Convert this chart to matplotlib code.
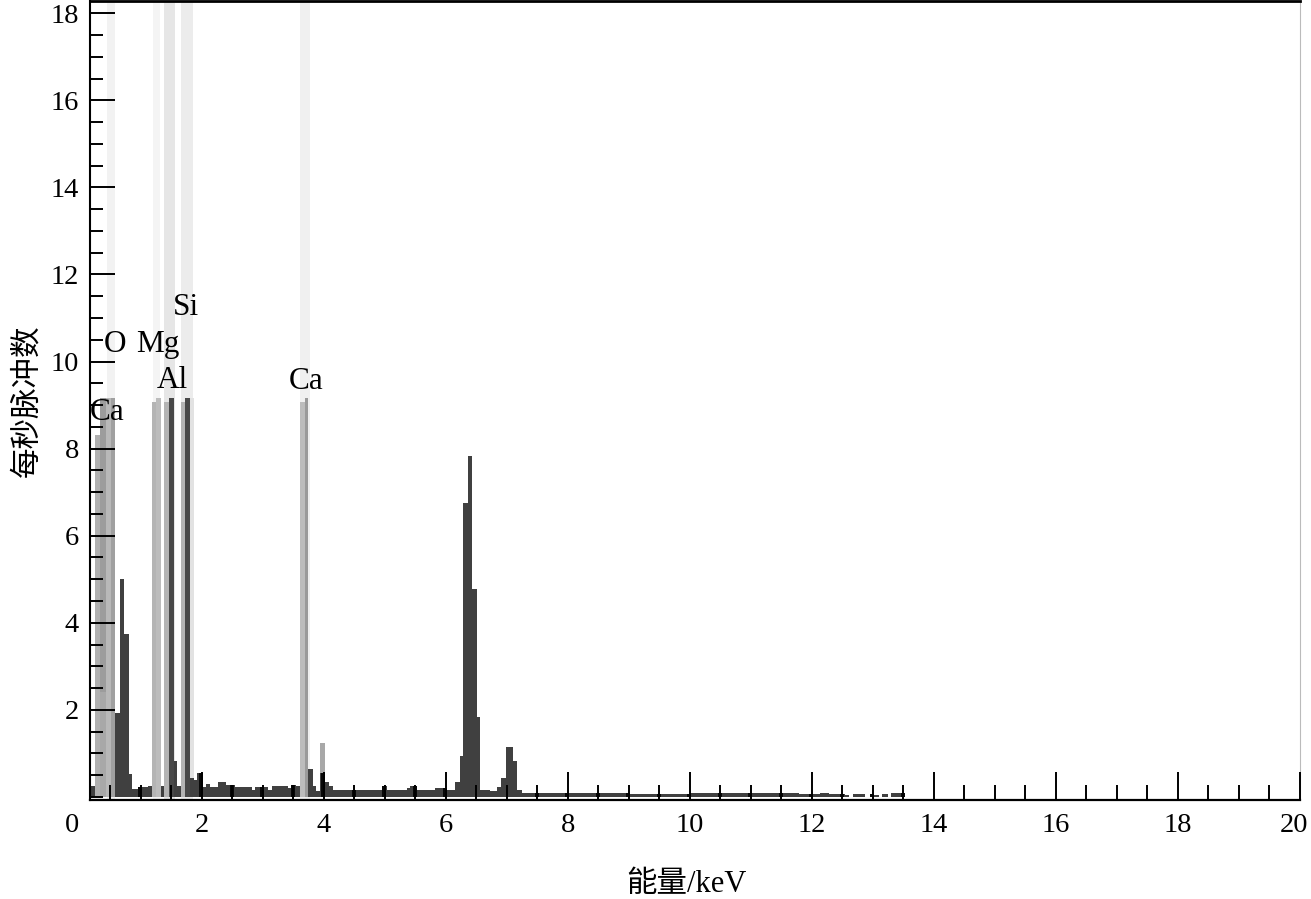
import numpy as np
import matplotlib.pyplot as plt
from matplotlib.ticker import MultipleLocator
from matplotlib.transforms import ScaledTranslation

plt.rcParams['font.family'] = ['Liberation Serif', 'Noto Sans CJK SC']

# spectrum: bin edges (keV) and counts per second for each bin
edges = [0.164, 0.24, 0.579, 0.661, 0.721, 0.798, 0.852, 0.978, 1.06, 1.115,
         1.18, 1.322, 1.377, 1.541, 1.596, 1.661, 1.803, 1.869, 1.923, 1.995,
         2.066, 2.131, 2.268, 2.393, 2.541, 2.814, 2.869, 3.005, 3.087, 3.142,
         3.415, 3.459, 3.541, 3.607, 3.743, 3.814, 3.869, 3.934, 4.016, 4.087,
         4.153, 4.962, 5.027, 5.355, 5.41, 5.492, 5.82, 6.011, 6.148, 6.23,
         6.284, 6.366, 6.432, 6.503, 6.557, 6.721, 6.83, 6.9, 6.98, 7.1,
         7.17, 7.24, 7.43, 7.70, 9.0, 10.0, 11.31, 11.6, 11.78, 12.13,
         12.28, 12.54, 12.6, 12.68, 12.87, 12.95, 13.02, 13.1, 13.14, 13.25,
         13.29, 13.5, 13.52]
counts = [0.25, 0.0, 1.92, 5.01, 3.74, 0.53, 0.18, 0.24, 0.24,
          0.25, 0.0, 0.25, 0.0, 0.83, 0.25, 0.0, 0.43, 0.38, 0.55,
          0.24, 0.30, 0.24, 0.35, 0.28, 0.24, 0.16, 0.24, 0.24, 0.16,
          0.25, 0.20, 0.28, 0.25, 0.0, 0.64, 0.25, 0.13, 0.56, 0.35,
          0.25, 0.16, 0.25, 0.16, 0.20, 0.25, 0.16, 0.20, 0.16, 0.35,
          0.93, 6.76, 7.83, 4.77, 1.84, 0.16, 0.13, 0.24, 0.43, 1.14,
          0.83, 0.16, 0.10, 0.10, 0.08, 0.07, 0.08, 0.08, 0.10, 0.06,
          0.10, 0.06, 0.05, 0.0, 0.06, 0.0, 0.07, 0.04, 0.0, 0.06,
          0.0, 0.08, 0.02]

# element windows (full height shading)
band_lo = [0.437, 1.19, 1.377, 1.65, 3.607]
band_hi = [0.574, 1.31, 1.557, 1.86, 3.77]
band_col = ['#f2f2f2', '#f4f4f4', '#e6e6e6', '#ececec', '#f0f0f0']

# element line markers
mark_lo = [0.24, 0.322, 0.432, 0.514, 1.18, 1.251, 1.377, 1.459, 1.661, 1.727, 1.803, 3.607, 3.689]
mark_hi = [0.322, 0.432, 0.514, 0.579, 1.251, 1.322, 1.459, 1.541, 1.727, 1.803, 1.869, 3.689, 3.743]
mark_h = [8.31, 9.16, 9.16, 9.16, 9.08, 9.16, 9.08, 9.16, 9.08, 9.16, 9.16, 9.08, 9.16]
mark_col = ['#b0b0b0', '#9c9c9c', '#b8b8b8', '#a0a0a0', '#b4b4b4', '#bcbcbc', '#b4b4b4',
            '#484848', '#b4b4b4', '#484848', '#e2e2e2', '#bcbcbc', '#9a9a9a']

# counts inside element windows, drawn in grey
roi_lo = [0.322, 3.934]
roi_hi = [0.432, 4.016]
roi_h = [2.42, 1.23]

labels = ['Ca', 'O', 'Mg', 'Al', 'Si', 'Ca']
label_e = [0.45, 0.574, 1.27, 1.51, 1.74, 3.70]
label_v = [8.66, 10.23, 10.23, 9.39, 11.07, 9.36]

fig = plt.figure(figsize=(13.11, 8.99), dpi=100)
ax = fig.add_axes([90 / 1311, 1 - 800 / 899, 1210 / 1311, 799 / 899])

for lo, hi, col in zip(band_lo, band_hi, band_col):
    ax.axvspan(lo, hi, color=col, lw=0, zorder=0.5)

mlo = np.array(mark_lo)
ax.bar(mlo, mark_h, width=np.array(mark_hi) - mlo, align='edge',
       color=mark_col, lw=0, zorder=0.8)
rlo = np.array(roi_lo)
ax.bar(rlo, roi_h, width=np.array(roi_hi) - rlo, align='edge',
       color='#a8a8a8', lw=0, zorder=0.9)

ax.stairs(counts, edges, fill=True, color='#404040', lw=0, zorder=1)

# baseline bins under the 0.5 keV ticks come out black in the original
e = np.array(edges)
c = np.array(counts)
tpos = np.arange(0.5, 13.6, 0.5)
idx = np.clip(np.searchsorted(e, tpos - 0.01) - 1, 0, len(c) - 1)
h = np.where(c[idx] < 1.0, c[idx], 0.0)
ax.bar(tpos - 0.01, h, width=0.065, color='#080808', lw=0, zorder=1.2)

for t, x, y in zip(labels, label_e, label_v):
    ax.text(x, y, t, ha='center', va='baseline', fontsize=22.5, zorder=3)

ax.set_xlim(0.164, 20.0)
ax.set_ylim(-0.07, 18.28)
ax.set_axisbelow(False)

ax.xaxis.set_minor_locator(MultipleLocator(0.5))
ax.yaxis.set_minor_locator(MultipleLocator(0.5))
ax.set_xticks(np.arange(2, 21, 2))
ax.set_xticklabels([str(v) for v in range(2, 21, 2)])
ax.set_yticks(np.arange(2, 19, 2))
ax.set_yticklabels([str(v) for v in range(2, 19, 2)])

ax.tick_params(axis='x', which='major', direction='in', length=20, width=1.4,
               labelsize=20.5, pad=9)
ax.tick_params(axis='x', which='minor', direction='in', length=11, width=1.4)
ax.tick_params(axis='y', which='major', direction='in', length=18, width=1.4,
               labelsize=20.5, pad=8)
ax.tick_params(axis='y', which='minor', direction='in', length=9, width=1.4)

# keep the last x label inside the picture
last = ax.get_xticklabels()[-1]
last.set_transform(last.get_transform() + ScaledTranslation(-6 / 100, 0, fig.dpi_scale_trans))

ax.spines['left'].set_linewidth(1.5)
ax.spines['bottom'].set_linewidth(1.6)
ax.spines['top'].set_linewidth(2.0)
ax.spines['right'].set_linewidth(0.8)
ax.spines['right'].set_color('#bbbbbb')

fig.text(72 / 1311, 1 - 825 / 899, '0', ha='center', va='center', fontsize=20.5)
fig.text(686 / 1311, 1 - 884 / 899, '能量/keV', ha='center', va='center', fontsize=22)
fig.text(28 / 1311, 1 - 401 / 899, '每秒脉冲数', ha='center', va='center',
         rotation=90, fontsize=22)

fig.savefig('out.png', dpi=100)
